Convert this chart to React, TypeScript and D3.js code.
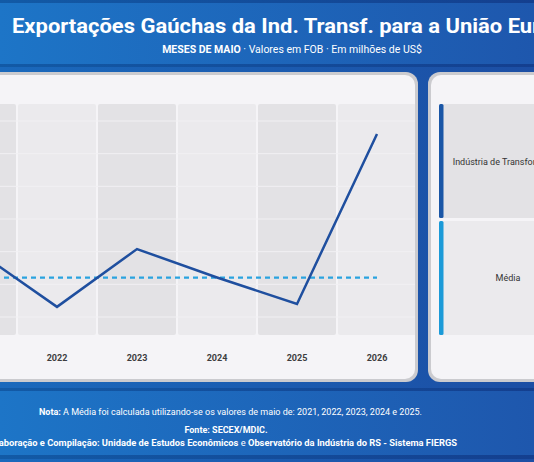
import React from 'react';
import { scaleBand, scaleLinear, line, mean, range } from 'd3';

// valores de maio (US$ milhões, estimados a partir da imagem)
const years = ['2021', '2022', '2023', '2024', '2025', '2026'];
const values = [70.2, 53.1, 70.8, 62.1, 54.0, 106.0];
const meanYears = ['2021', '2022', '2023', '2024', '2025'];
const gridTicks = range(50, 111, 10);
const legendItems = ['Indústria de Transformação', 'Média'];

const title = 'Exportações Gaúchas da Ind. Transf. para a União Europeia';
const notaText = ' A Média foi calculada utilizando-se os valores de maio de: 2021, 2022, 2023, 2024 e 2025.';

export default function App() {
  const width = 534;
  const height = 462;
  const plotTop = 104;
  const plotBottom = 335;

  const x = scaleBand().domain(years).range([-63, 417]).padding(0);
  const y = scaleLinear().domain([50, 110]).range([317, 121]);

  const pts = years.map((yr, i) => ({ yr, v: values[i] }));
  const media = mean(pts.filter((d) => meanYears.includes(d.yr)), (d) => d.v) as number;

  const lineGen = line<{ yr: string; v: number }>()
    .x((d) => (x(d.yr) as number) + x.bandwidth() / 2)
    .y((d) => y(d.v));

  const cx = (yr: string) => (x(yr) as number) + x.bandwidth() / 2;
  const font = 'Roboto, "Open Sans", sans-serif';

  return (
    <svg width={width} height={height} style={{ position: 'absolute', left: 0, top: 0 }} fontFamily={font}>
      <defs>
        <linearGradient id="bg" x1="0" x2="1" y1="0" y2="0">
          <stop offset="0" stopColor="#1a69bc" />
          <stop offset="1" stopColor="#1c4ea4" />
        </linearGradient>
        <linearGradient id="band" x1="0" x2="1" y1="0" y2="0">
          <stop offset="0" stopColor="#1d75c7" />
          <stop offset="1" stopColor="#1e57ad" />
        </linearGradient>
        <linearGradient id="stripe" x1="0" x2="1" y1="0" y2="0">
          <stop offset="0" stopColor="#125aa6" />
          <stop offset="1" stopColor="#143f8f" />
        </linearGradient>
        <clipPath id="leftClip">
          <rect x={-40} y={75} width={455} height={304} rx={10} />
        </clipPath>
      </defs>

      {/* fundo */}
      <rect width={width} height={height} fill="url(#bg)" />
      <rect y={0} width={width} height={67} fill="url(#stripe)" />
      <rect y={3} width={width} height={61} fill="url(#band)" />
      <rect y={388} width={width} height={71} fill="url(#stripe)" />
      <rect y={391} width={width} height={64} fill="url(#band)" />

      {/* cabeçalho */}
      <text x={12} y={33} fill="#fff" fontSize={21} fontWeight={700} textLength={582} lengthAdjust="spacingAndGlyphs">
        {title}
      </text>
      <text x={292} y={53} fill="#fff" fontSize={10.5} textAnchor="middle">
        <tspan fontWeight={700}>MESES DE MAIO</tspan>
        <tspan> · Valores em FOB · Em milhões de US$</tspan>
      </text>

      {/* painel do gráfico */}
      <rect x={-40} y={72} width={458} height={310} rx={12} fill="#cbcbcf" />
      <rect x={-40} y={75} width={455} height={304} rx={10} fill="#f5f4f7" />
      <g clipPath="url(#leftClip)">
        {years.map((yr, i) => (
          <rect
            key={yr}
            x={(x(yr) as number) + 1}
            y={plotTop}
            width={x.bandwidth() - 2}
            height={plotBottom - plotTop}
            rx={2}
            fill={i % 2 === 0 ? '#e3e2e5' : '#ebeaed'}
          />
        ))}
        {gridTicks.map((t) => (
          <line key={t} x1={-63} x2={417} y1={y(t)} y2={y(t)} stroke="#f1f0f3" strokeWidth={1} />
        ))}
        <line
          x1={cx('2021')}
          x2={cx('2026')}
          y1={y(media)}
          y2={y(media)}
          stroke="#2aa3df"
          strokeWidth={2.2}
          strokeDasharray="5,4"
        />
        <path d={lineGen(pts) as string} fill="none" stroke="#1f4f9f" strokeWidth={2.5} strokeLinejoin="miter" />
        {years.map((yr) => (
          <text key={yr} x={cx(yr)} y={361} textAnchor="middle" fontSize={9} fontWeight={700} fill="#3d3d40">
            {yr}
          </text>
        ))}
      </g>

      {/* painel da legenda */}
      <rect x={428} y={72} width={160} height={310} rx={12} fill="#cbcbcf" />
      <rect x={431} y={75} width={154} height={304} rx={10} fill="#f5f4f7" />
      <rect x={443} y={104} width={140} height={114} fill="#e3e2e5" />
      <rect x={439} y={104} width={4.5} height={114} rx={1.5} fill="#1a56a6" />
      <rect x={443} y={221} width={140} height={114} fill="#ebeaed" />
      <rect x={439} y={221} width={4.5} height={114} rx={1.5} fill="#1b9ad8" />
      <text x={508} y={165} textAnchor="middle" fontSize={9} fill="#333">
        {legendItems[0]}
      </text>
      <text x={508} y={281} textAnchor="middle" fontSize={9} fill="#333">
        {legendItems[1]}
      </text>

      {/* rodapé */}
      <text x={230.5} y={415} textAnchor="middle" fontSize={9} fill="#fff" textLength={383} lengthAdjust="spacingAndGlyphs">
        <tspan fontWeight={700}>Nota:</tspan>
        <tspan>{notaText}</tspan>
      </text>
      <text x={226} y={433} textAnchor="middle" fontSize={9} fontWeight={700} fill="#fff">
        Fonte: SECEX/MDIC.
      </text>
      <text x={224} y={446} textAnchor="middle" fontSize={9} fontWeight={700} fill="#fff" textLength={466} lengthAdjust="spacingAndGlyphs">
        <tspan>Elaboração e Compilação: Unidade de Estudos Econômicos</tspan>
        <tspan fontWeight={400}> e </tspan>
        <tspan>Observatório da Indústria do RS - Sistema FIERGS</tspan>
      </text>
    </svg>
  );
}
